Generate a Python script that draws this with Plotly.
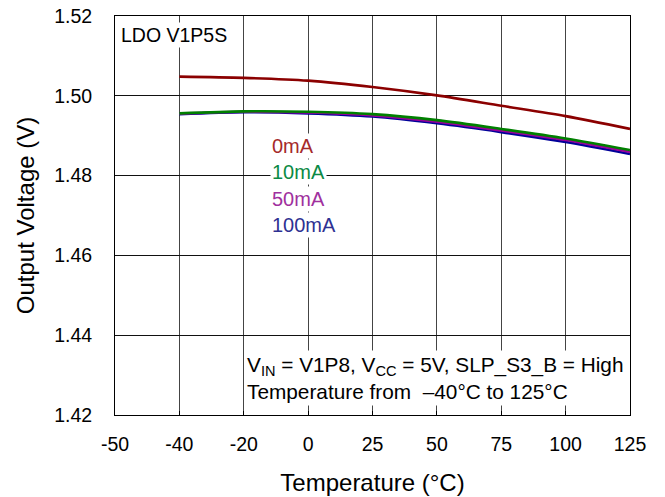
import plotly.graph_objects as go

# Category axis: temperatures (°C), equally spaced
temp_labels = ["-50", "-40", "-20", "0", "25", "50", "75", "100", "125"]
temps = ["-40", "-20", "0", "25", "50", "75", "100", "125"]

# Output voltage (V) per load current
v_0ma = [1.5048, 1.5045, 1.5038, 1.5022, 1.5001, 1.4975, 1.4949, 1.4917]
v_10ma = [1.4956, 1.4961, 1.4960, 1.4954, 1.4939, 1.4917, 1.4893, 1.4864]
v_50ma = [1.4955, 1.4960, 1.4958, 1.4951, 1.4935, 1.4913, 1.4889, 1.4859]
v_100ma = [1.4954, 1.4959, 1.4956, 1.4948, 1.4931, 1.4909, 1.4884, 1.4854]

series_names = ["0mA", "10mA", "50mA", "100mA"]
line_colors = ["#8B0000", "#008000", "#990099", "#000099"]
text_colors = ["#A52A2A", "#0B8A45", "#A0309E", "#2E3192"]
label_y = [1.48745, 1.48095, 1.47425, 1.46765]

FONT = "Liberation Sans, Arial, sans-serif"

x_idx = [temp_labels.index(t) for t in temps]

fig = go.Figure()
series = [v_0ma, v_10ma, v_50ma, v_100ma]
draw_order = [3, 2, 1, 0]
for i in draw_order:
    fig.add_trace(go.Scatter(
        x=x_idx, y=series[i], mode="lines", name=series_names[i],
        line=dict(color=line_colors[i], width=2.6, shape="spline", smoothing=0.8),
        showlegend=False,
    ))

annotations = []
# Series labels with white boxes over the grid
for name, col, yv in zip(series_names, text_colors, label_y):
    annotations.append(dict(
        x=2.40, y=yv, xref="x", yref="y", xanchor="left", yanchor="middle",
        text=name, showarrow=False, bgcolor="white", borderpad=1,
        font=dict(family=FONT, size=20, color=col),
    ))

annotations.append(dict(
    x=0, y=0.953, xref="paper", yref="paper", xanchor="left", yanchor="middle",
    xshift=4, text="LDO V1P5S", showarrow=False, bgcolor="white", borderpad=1,
    font=dict(family=FONT, size=19.5, color="black"),
))

annotations.append(dict(
    x=1, y=0, xref="paper", yref="paper", xanchor="right", yanchor="bottom",
    xshift=-4, yshift=9, align="left", showarrow=False, bgcolor="white", borderpad=2,
    text=("V<sub>IN</sub> = V1P8, V<sub>CC</sub> = 5V, SLP_S3_B = High<br>"
          "Temperature from &nbsp;\u201340\u00b0C to 125\u00b0C"),
    font=dict(family=FONT, size=20.8, color="black"),
))

# Chart title sits above the drawing area
annotations.append(dict(
    x=0.5, y=1, xref="paper", yref="paper", xanchor="center", yanchor="bottom",
    yshift=13.5, text="<b>Output Voltage vs Temperature</b>", showarrow=False,
    font=dict(family=FONT, size=31, color="black"),
))

fig.update_layout(
    width=665, height=497,
    margin=dict(l=115, r=35, t=16, b=82),
    paper_bgcolor="white", plot_bgcolor="white",
    font=dict(family=FONT, color="black"),
    annotations=annotations,
    xaxis=dict(
        range=[0, 8], tickmode="array", tickvals=list(range(len(temp_labels))),
        ticktext=temp_labels, showgrid=True, gridcolor="#444444", gridwidth=1,
        zeroline=False, showline=True, linecolor="black", linewidth=1, mirror=True,
        ticks="inside", ticklen=4, tickcolor="black", ticklabelstandoff=12,
        tickfont=dict(size=19.5), automargin=False,
        title=dict(text="Temperature (\u00b0C)", font=dict(size=24), standoff=19),
    ),
    yaxis=dict(
        range=[1.42, 1.52], dtick=0.02, tickformat=".2f",
        showgrid=True, gridcolor="#111111", gridwidth=1,
        zeroline=False, showline=True, linecolor="black", linewidth=1, mirror=True,
        ticks="", ticklabelstandoff=18, tickfont=dict(size=19.5), automargin=False,
        title=dict(text="Output Voltage (V)", font=dict(size=24), standoff=12),
    ),
)

fig.write_html("out.html")
